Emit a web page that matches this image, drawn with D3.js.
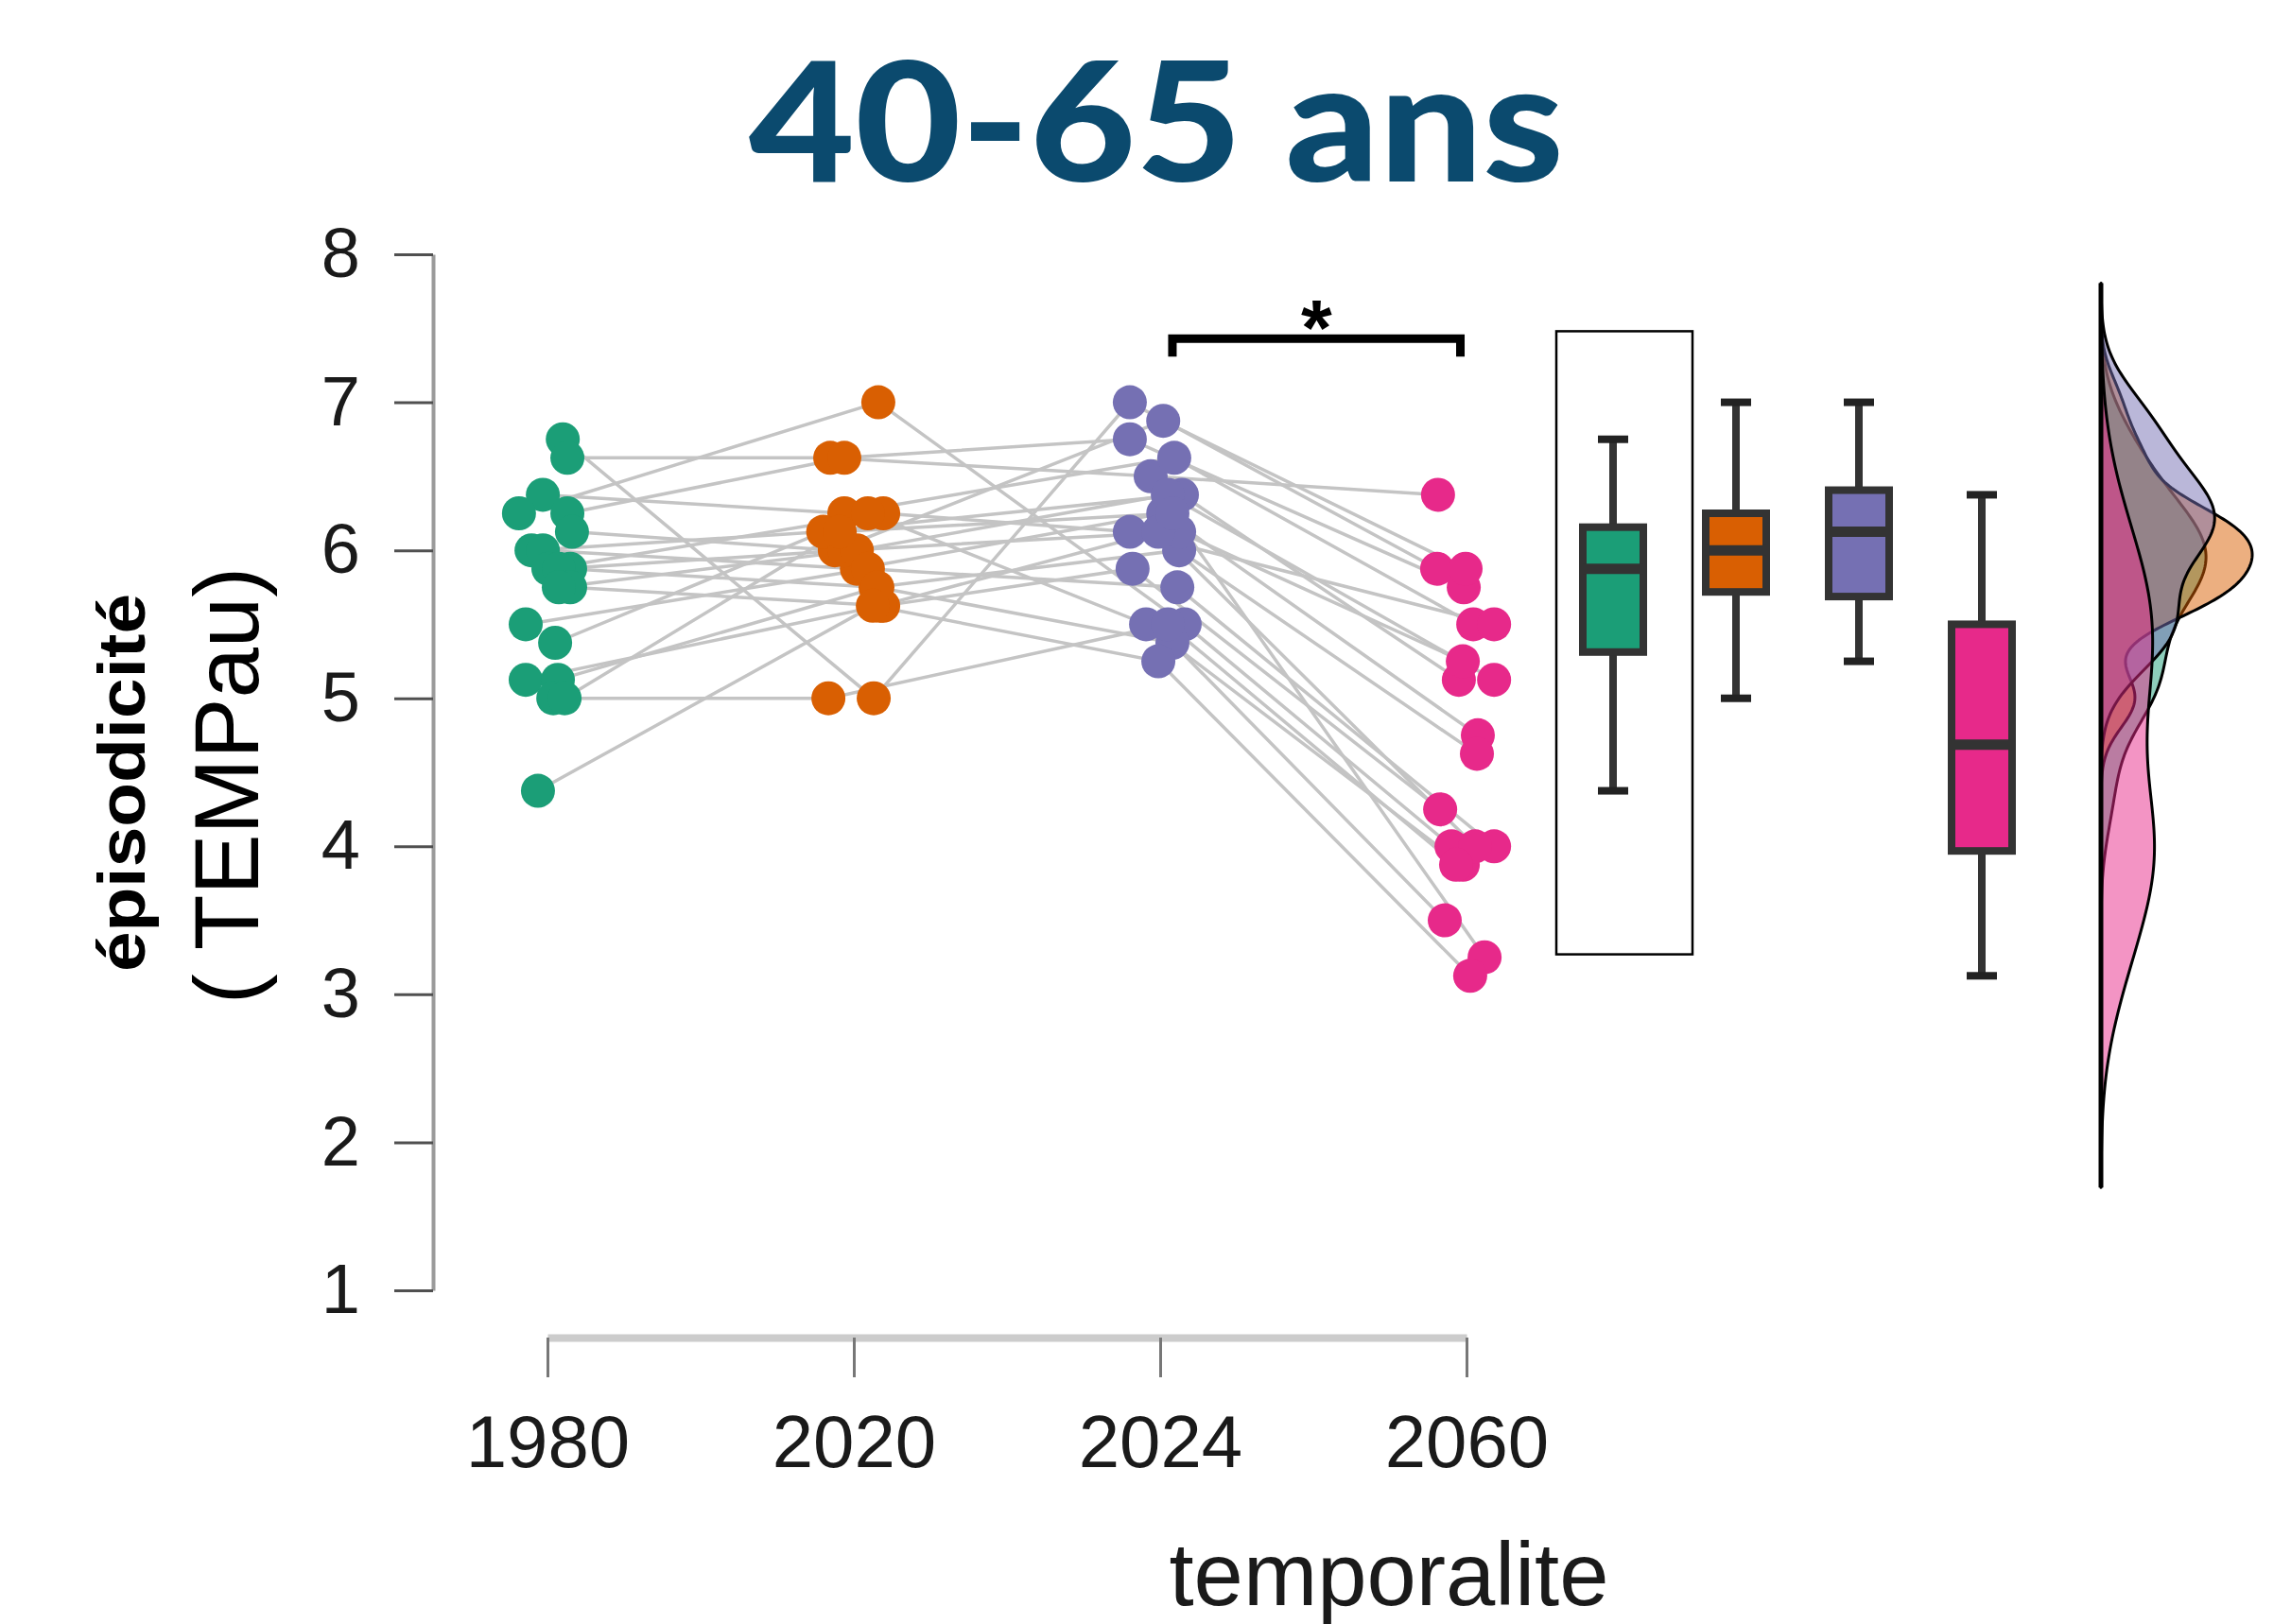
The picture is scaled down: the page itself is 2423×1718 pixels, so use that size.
<!DOCTYPE html>
<html>
<head>
<meta charset="utf-8">
<script src="https://cdn.jsdelivr.net/npm/d3@7"></script>
<style>
  html, body { margin: 0; padding: 0; background: #ffffff; }
  svg { display: block; }
</style>
</head>
<body>
<svg id="chart" width="2423" height="1718"></svg>
<script>
// ---------------- data ----------------
const title = "40-65 ans";
const years = ["1980", "2020", "2024", "2060"];
const yTicks = [1, 2, 3, 4, 5, 6, 7, 8];
const xAxisTitle = "temporalite";
const yAxisTitle1 = "épisodicité";
const yAxisTitle2 = "( TEMPau)";
const signifLabel = "*";

// one value per participant (same order in every array -> paired lines)
const v1980 = [6.75, 6.625, 6.375, 6.25, 6.25, 6.125, 6.0, 6.0, 5.875, 5.875, 5.875, 5.75, 5.75, 5.5, 5.375, 5.125, 5.125, 5.0, 5.0, 4.375];
const v2020 = [5.0, 6.625, 6.25, 7.0, 6.625, 6.0, 6.125, 5.875, 6.25, 5.75, 6.0, 5.625, 6.0, 5.875, 6.25, 5.625, 5.75, 5.0, 6.125, 5.625];
const v2024 = [7.0, 6.5, 6.625, 5.5, 6.75, 6.875, 6.375, 6.25, 6.125, 6.0, 6.125, 5.875, 6.375, 5.75, 5.5, 6.125, 5.375, 5.5, 6.25, 5.25];
const v2060 = [5.875, 6.375, 5.5, 4.0, 5.75, 5.875, 5.125, 4.75, 5.5, 4.625, 5.25, 4.25, 5.125, 4.0, 3.875, 4.0, 3.5, 3.875, 3.25, 3.125];

// horizontal jitter of each point, in category units
const j1980 = [0.05, 0.065, -0.015, -0.093, 0.065, 0.08, -0.052, -0.015, 0.003, 0.074, 0.037, 0.074, 0.037, -0.071, 0.025, -0.071, 0.034, 0.019, 0.056, -0.031];
const j2020 = [0.065, -0.077, -0.031, 0.08, -0.031, -0.062, -0.1, 0.01, 0.096, 0.071, -0.031, 0.096, 0.01, 0.046, 0.046, 0.086, 0.077, -0.083, -0.046, 0.062];
const j2024 = [-0.099, -0.031, 0.046, 0.08, -0.099, 0.01, 0.071, 0.01, -0.099, 0.062, 0.062, -0.09, 0.025, 0.056, -0.046, -0.006, 0.04, 0.025, 0.04, -0.006];
const j2060 = [-0.096, -0.093, 0.022, -0.049, -0.009, -0.003, -0.025, 0.037, 0.09, 0.034, -0.012, -0.086, 0.09, 0.09, -0.012, 0.028, -0.071, -0.034, 0.059, 0.012];

const colors = ["#1b9e77", "#d95f02", "#7570b3", "#e7298a"];

const series = [v1980, v2020, v2024, v2060];
const jitters = [j1980, j2020, j2024, j2060];

// ---------------- layout ----------------
const svg = d3.select("#chart");
svg.append("rect").attr("width", 2423).attr("height", 1718).attr("fill", "#fff");

const y = d3.scaleLinear().domain([1, 8]).range([1365, 269]);
const x = d3.scalePoint().domain(years).range([579, 1551]);
const xBox = d3.scalePoint().domain(years).range([1706, 2096]);
const step = x.step();
const fontSans = "'Liberation Sans', Arial, Helvetica, sans-serif";

// title
svg.append("text")
  .attr("x", 1223).attr("y", 192)
  .attr("text-anchor", "middle")
  .attr("font-family", "Lato, 'Open Sans', sans-serif")
  .attr("font-weight", 900)
  .attr("font-size", 176)
  .attr("fill", "#0b4a6e")
  .attr("textLength", 862)
  .attr("lengthAdjust", "spacingAndGlyphs")
  .text(title);

// y axis
const yAxis = svg.append("g")
  .attr("transform", "translate(458,0)")
  .call(d3.axisLeft(y).tickValues(yTicks).tickSize(41).tickSizeOuter(0).tickPadding(36).tickFormat(d3.format("d")));
yAxis.select(".domain").attr("stroke", "#9a9a9a").attr("stroke-width", 4);
yAxis.selectAll(".tick line").attr("stroke", "#505050").attr("stroke-width", 3);
yAxis.selectAll(".tick text")
  .attr("font-family", fontSans).attr("font-size", 74).attr("fill", "#1a1a1a");

// x axis
const xAxis = svg.append("g")
  .attr("transform", "translate(0,1415)")
  .call(d3.axisBottom(x).tickSize(42).tickSizeOuter(0).tickPadding(40));
xAxis.select(".domain").attr("stroke", "#cccccc").attr("stroke-width", 8);
xAxis.selectAll(".tick line").attr("stroke", "#777").attr("stroke-width", 3);
xAxis.selectAll(".tick text")
  .attr("font-family", fontSans).attr("font-size", 78).attr("fill", "#1a1a1a");

// axis titles
svg.append("text")
  .attr("x", 1469).attr("y", 1698)
  .attr("text-anchor", "middle")
  .attr("font-family", fontSans).attr("font-size", 94).attr("fill", "#1a1a1a")
  .text(xAxisTitle);

svg.append("text")
  .attr("transform", "translate(153,828) rotate(-90)")
  .attr("text-anchor", "middle")
  .attr("font-family", fontSans).attr("font-weight", 700).attr("font-size", 70).attr("fill", "#000")
  .attr("textLength", 400).attr("lengthAdjust", "spacingAndGlyphs")
  .text(yAxisTitle1);

svg.append("text")
  .attr("transform", "translate(273,831) rotate(-90)")
  .attr("text-anchor", "middle")
  .attr("font-family", fontSans).attr("font-size", 96).attr("fill", "#000")
  .text(yAxisTitle2);

// paired lines
const nSubj = v1980.length;
const px = (g, i) => x(years[g]) + jitters[g][i] * step;
const lineGen = d3.line();
const linesG = svg.append("g");
for (let i = 0; i < nSubj; i++) {
  const pts = series.map((s, g) => [px(g, i), y(s[i])]);
  linesG.append("path")
    .attr("d", lineGen(pts))
    .attr("fill", "none")
    .attr("stroke", "#c4c4c4")
    .attr("stroke-width", 3.5);
}

// points
const ptsG = svg.append("g");
series.forEach((s, g) => {
  ptsG.selectAll(null).data(s).enter().append("circle")
    .attr("cx", (d, i) => px(g, i))
    .attr("cy", d => y(d))
    .attr("r", 18)
    .attr("fill", colors[g]);
});

// significance bracket between 2024 and 2060
const bx1 = x("2024") + 0.04 * step, bx2 = x("2060") - 0.02 * step;
const by = y(7.43);
svg.append("path")
  .attr("d", `M${bx1},${by + 19} L${bx1},${by} L${bx2},${by} L${bx2},${by + 19}`)
  .attr("fill", "none").attr("stroke", "#000").attr("stroke-width", 9);
svg.append("text")
  .attr("x", (bx1 + bx2) / 2).attr("y", by + 18)
  .attr("text-anchor", "middle")
  .attr("font-family", fontSans).attr("font-weight", 700).attr("font-size", 84)
  .text(signifLabel);

// box plots
const boxW = 64;
const boxG = svg.append("g");
series.forEach((s, g) => {
  const sorted = s.slice().sort(d3.ascending);
  const q1 = d3.quantile(sorted, 0.25), med = d3.quantile(sorted, 0.5), q3 = d3.quantile(sorted, 0.75);
  const iqr = q3 - q1;
  const lo = d3.min(sorted.filter(v => v >= q1 - 1.5 * iqr));
  const hi = d3.max(sorted.filter(v => v <= q3 + 1.5 * iqr));
  const cx = xBox(years[g]);
  const c = "#333333";
  boxG.append("line").attr("x1", cx).attr("x2", cx).attr("y1", y(hi)).attr("y2", y(q3)).attr("stroke", c).attr("stroke-width", 8);
  boxG.append("line").attr("x1", cx).attr("x2", cx).attr("y1", y(q1)).attr("y2", y(lo)).attr("stroke", c).attr("stroke-width", 8);
  boxG.append("line").attr("x1", cx - 16).attr("x2", cx + 16).attr("y1", y(hi)).attr("y2", y(hi)).attr("stroke", "#222").attr("stroke-width", 8);
  boxG.append("line").attr("x1", cx - 16).attr("x2", cx + 16).attr("y1", y(lo)).attr("y2", y(lo)).attr("stroke", "#222").attr("stroke-width", 8);
  boxG.append("rect")
    .attr("x", cx - boxW / 2).attr("y", y(q3))
    .attr("width", boxW).attr("height", y(q1) - y(q3))
    .attr("fill", colors[g]).attr("stroke", c).attr("stroke-width", 8);
  boxG.append("line").attr("x1", cx - boxW / 2).attr("x2", cx + boxW / 2).attr("y1", y(med)).attr("y2", y(med)).attr("stroke", c).attr("stroke-width", 11);
});

// frame around the first box plot
svg.append("rect")
  .attr("x", xBox("1980") - 60).attr("y", y(7.48))
  .attr("width", 144).attr("height", y(3.27) - y(7.48))
  .attr("fill", "none").attr("stroke", "#000").attr("stroke-width", 2.5);

// half densities (gaussian KDE, bandwidth = R's bw.nrd0, cut = 3)
function nrd0(arr) {
  const sorted = arr.slice().sort(d3.ascending);
  const sd = d3.deviation(sorted);
  const iqr = d3.quantile(sorted, 0.75) - d3.quantile(sorted, 0.25);
  const lo = Math.min(sd, iqr / 1.34);
  return 0.9 * lo * Math.pow(arr.length, -0.2);
}
function kde(arr, bw) {
  const lo = d3.min(arr) - 3 * bw, hi = d3.max(arr) + 3 * bw;
  const n = 256, out = [];
  for (let k = 0; k <= n; k++) {
    const t = lo + (hi - lo) * k / n;
    let sum = 0;
    for (const v of arr) { const z = (t - v) / bw; sum += Math.exp(-0.5 * z * z); }
    out.push([t, sum / (arr.length * bw * Math.sqrt(2 * Math.PI))]);
  }
  return out;
}
const dens = series.map(s => kde(s, nrd0(s)));
const maxD = d3.max(dens, d => d3.max(d, p => p[1]));
const baseX = 2222;
const wScale = d3.scaleLinear().domain([0, maxD]).range([0, 160]);
const area = d3.area().y(p => y(p[0])).x0(baseX).x1(p => baseX + wScale(p[1])).curve(d3.curveLinear);
const densG = svg.append("g");
dens.forEach((d, g) => {
  densG.append("path")
    .attr("d", area(d))
    .attr("fill", colors[g]).attr("fill-opacity", 0.5)
    .attr("stroke", "#000").attr("stroke-width", 3).attr("stroke-linejoin", "round");
});
const dMin = d3.min(dens, d => d[0][0]), dMax = d3.max(dens, d => d[d.length - 1][0]);
densG.append("line")
  .attr("x1", baseX).attr("x2", baseX)
  .attr("y1", y(dMax)).attr("y2", y(dMin))
  .attr("stroke", "#000").attr("stroke-width", 5);
</script>
</body>
</html>
